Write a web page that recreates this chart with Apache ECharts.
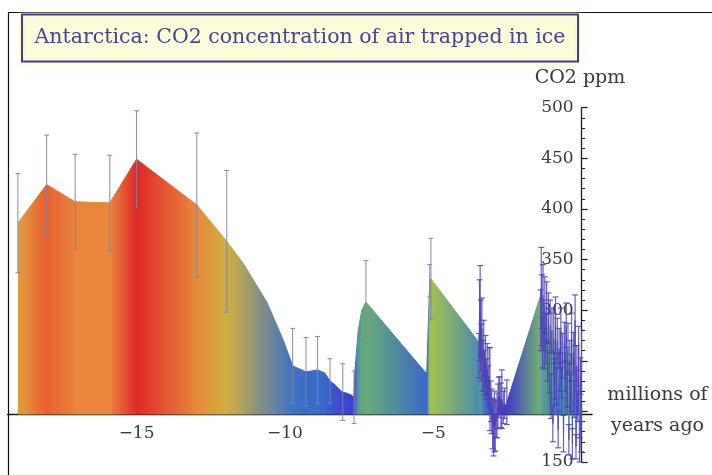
<!DOCTYPE html>
<html>
<head>
<meta charset="utf-8">
<script src="https://cdn.jsdelivr.net/npm/echarts@6/dist/echarts.min.js"></script>
<style>
  html, body { margin: 0; padding: 0; background: #fff; }
  #chart { width: 712px; height: 475px; }
</style>
</head>
<body>
<div id="chart"></div>
<script>
// Sample age in millions of years (negative = before present)
const ages = [
  -19.0, -18.03, -17.07, -15.9, -15.0, -12.97, -11.96, -11.4, -10.61, -10.05,
  -9.74, -9.29, -8.9, -8.66, -8.48, -8.3, -8.14, -8.05, -7.92, -7.75, -7.67,
  -7.64, -7.53, -7.41, -7.27,
  -5.22, -5.12, -5.08,
  -3.48, -3.46, -3.44, -3.42, -3.40, -3.38, -3.36, -3.33, -3.30, -3.27, -3.24,
  -3.21, -3.18, -3.15, -3.12, -3.09, -3.06, -3.03, -3.00, -2.97, -2.94, -2.91,
  -2.88, -2.85, -2.82, -2.79, -2.76, -2.72, -2.69, -2.64, -2.60, -2.56, -2.52,
  -1.40, -1.38, -1.36, -1.34, -1.32, -1.30, -1.28, -1.26, -1.24, -1.21, -1.18,
  -1.15, -1.12, -1.09, -1.06, -1.03, -1.00, -0.97, -0.94, -0.91, -0.88, -0.85,
  -0.82, -0.79, -0.76, -0.73, -0.70, -0.67, -0.64, -0.61, -0.58, -0.55, -0.52,
  -0.49, -0.46, -0.43, -0.40, -0.37, -0.34, -0.31, -0.28, -0.25, -0.22, -0.19,
  -0.16, -0.13, -0.10, -0.07, -0.04, -0.02, 0.0
];

// CO2 concentration, ppm
const co2 = [
  386, 424, 407, 406, 449, 404, 368, 346, 308, 270,
  245, 239, 241, 238, 230, 226, 221, 219, 218, 216, 214,
  239, 280, 300, 308,
  237, 329, 331,
  269, 255, 290, 300, 275, 258, 282, 245, 262, 238, 250,
  232, 242, 225, 235, 222, 210, 200, 188, 184, 190, 186,
  192, 196, 205, 214, 216, 206, 212, 204, 208, 205, 209,
  313, 290, 322, 300, 268, 315, 285, 262, 305, 272, 298,
  250, 292, 238, 285, 215, 280, 188, 272, 232, 285, 225,
  270, 182, 262, 238, 280, 228, 255, 178, 268, 235, 285,
  222, 262, 172, 250, 218, 272, 168, 258, 212, 290, 165,
  245, 205, 262, 162, 235, 175, 280
];

// Half-width of the uncertainty bar, ppm (0 = no bar)
const co2Err = [
  49, 49, 47, 47, 48, 71, 70, 0, 0, 0,
  37, 34, 33, 0, 22, 0, 0, 28, 0, 0, 26,
  0, 0, 0, 41,
  0, 16, 40,
  0, 22, 40, 44, 35, 28, 30, 25, 28, 22, 25,
  20, 25, 20, 28, 41, 20, 22, 25, 28, 30, 25,
  18, 22, 22, 20, 18, 22, 29, 16, 15, 0, 22,
  0, 30, 40, 35, 25, 30, 25, 20, 28, 25, 30,
  20, 25, 20, 25, 22, 22, 18, 25, 20, 28, 18,
  22, 18, 20, 18, 22, 15, 22, 18, 20, 15, 22,
  18, 25, 15, 20, 18, 25, 15, 20, 18, 25, 12,
  20, 15, 22, 12, 18, 15, 0
];

// Points that only trace the smoothed outline between two cores;
// they carry no colour of their own, the fill blends across them
const outlineOnlyAges = [-11.4, -10.61, -10.05];

const xTickValues = [-19, -18, -17, -16, -15, -14, -13, -12, -11, -10,
                     -9, -8, -7, -6, -5, -4, -3, -2, -1];
const xLabelValues = [-15, -10, -5];
const yHiddenLabel = 200;       // the time axis crosses here, so no label
const axisCrossing = 197;       // ppm level where the time axis is drawn

// Colour scale: CO2 value -> fill colour
const palette = [
  [160, '#5a2a8a'], [195, '#4536b8'], [215, '#3c40d0'], [240, '#3a6cc8'],
  [265, '#4a8ab0'], [290, '#5a9e92'], [310, '#6aae74'], [330, '#a0c250'],
  [350, '#bcb84a'], [370, '#d2ae40'], [390, '#e49a3c'], [408, '#e8843a'],
  [425, '#e85e2e'], [450, '#e0262a']
];

function hexToRgb(h) {
  return [parseInt(h.substr(1, 2), 16), parseInt(h.substr(3, 2), 16), parseInt(h.substr(5, 2), 16)];
}
function colourFor(v) {
  if (v <= palette[0][0]) return palette[0][1];
  for (let i = 1; i < palette.length; i++) {
    if (v <= palette[i][0]) {
      const [v0, c0] = palette[i - 1], [v1, c1] = palette[i];
      const t = (v - v0) / (v1 - v0);
      const a = hexToRgb(c0), b = hexToRgb(c1);
      const m = a.map((x, k) => Math.round(x + (b[k] - x) * t));
      return 'rgb(' + m.join(',') + ')';
    }
  }
  return palette[palette.length - 1][1];
}

// Horizontal gradient: each sample colours its own vertical strip,
// colours blend linearly between neighbouring samples
function buildStops() {
  const a0 = ages[0], a1 = ages[ages.length - 1], span = a1 - a0;
  const stops = [];
  ages.forEach((a, i) => {
    if (outlineOnlyAges.indexOf(a) >= 0) return;
    stops.push({ offset: (a - a0) / span, color: colourFor(co2[i]) });
  });
  return stops;
}
const stops = buildStops();
const fillGradient = new echarts.graphic.LinearGradient(0, 0, 1, 0, stops);
const lineGradient = new echarts.graphic.LinearGradient(0, 0, 1, 0, stops);

const curveData = ages.map((a, i) => [a, co2[i]]);
const errData = [];
ages.forEach((a, i) => { if (co2Err[i] > 0) errData.push([a, co2[i], co2Err[i]]); });

const serif = '"DejaVu Serif", "Liberation Serif", serif';
const xMin = -19.35, xMax = 0.35;
const yMin = 150, yMax = 500;
const gridLeft = 7.5, gridWidth = 584.5;
const gridTop = 107.7, gridHeight = 354.3;

const chart = echarts.init(document.getElementById('chart'), null, { renderer: 'canvas' });
chart.setOption({
  animation: false,
  backgroundColor: '#ffffff',
  grid: { left: gridLeft, top: gridTop, width: gridWidth, height: gridHeight,
          containLabel: false, outerBoundsMode: 'none' },
  xAxis: {
    type: 'value',
    min: xMin,
    max: xMax,
    position: 'bottom',
    // the time axis sits at the axisCrossing level instead of the grid bottom
    offset: -(axisCrossing - yMin) / (yMax - yMin) * gridHeight,
    axisLine: { onZero: false, lineStyle: { color: '#1a1a1a', width: 1.3 } },
    axisTick: { show: true, inside: true, length: 5, customValues: xTickValues,
                lineStyle: { color: '#1a1a1a', width: 1.3 } },
    axisLabel: {
      customValues: xLabelValues, margin: 11,
      fontFamily: serif, fontSize: 17, color: '#3a3a3a',
      formatter: v => (v < 0 ? '\u2212' : '') + Math.abs(v)
    },
    splitLine: { show: false }
  },
  yAxis: {
    type: 'value',
    min: yMin,
    max: yMax,
    interval: 50,
    position: 'left',
    // the CO2 axis sits at age 0
    offset: -(0 - xMin) / (xMax - xMin) * gridWidth,
    axisLine: { show: true, onZero: false, lineStyle: { color: '#1a1a1a', width: 1.3 } },
    axisTick: { show: true, inside: true, length: 6, lineStyle: { color: '#1a1a1a', width: 1.2 } },
    minorTick: { show: true, splitNumber: 5, length: 3.5, lineStyle: { color: '#1a1a1a', width: 1 } },
    axisLabel: {
      margin: 8, fontFamily: serif, fontSize: 17, color: '#3a3a3a',
      formatter: v => (v === yHiddenLabel ? '' : String(v))
    },
    splitLine: { show: false }
  },
  series: [
    {
      type: 'line',
      data: curveData,
      showSymbol: false,
      z: 2,
      lineStyle: { color: lineGradient, width: 1 },
      areaStyle: { origin: axisCrossing, color: fillGradient, opacity: 1 }
    },
    {
      type: 'custom',
      data: errData,
      z: 3,
      renderItem: function (params, api) {
        const age = api.value(0), v = api.value(1), e = api.value(2);
        const top = api.coord([age, v + e]);
        const bot = api.coord([age, v - e]);
        const past = age < -4;
        const stroke = past ? 'rgba(130,132,160,0.95)' : 'rgba(78,66,182,0.85)';
        const cap = past ? 2.5 : 3;
        const style = { stroke: stroke, lineWidth: past ? 1 : 1.2, fill: null };
        return {
          type: 'group',
          children: [
            { type: 'line', shape: { x1: top[0], y1: top[1], x2: bot[0], y2: bot[1] }, style: style },
            { type: 'line', shape: { x1: top[0] - cap, y1: top[1], x2: top[0] + cap, y2: top[1] }, style: style },
            { type: 'line', shape: { x1: bot[0] - cap, y1: bot[1], x2: bot[0] + cap, y2: bot[1] }, style: style }
          ]
        };
      }
    }
  ],
  graphic: [
    // outer frame edges
    { type: 'line', shape: { x1: 8, y1: 12.5, x2: 712, y2: 12.5 }, style: { stroke: '#111', lineWidth: 1.2 } },
    { type: 'line', shape: { x1: 8.5, y1: 12, x2: 8.5, y2: 475 }, style: { stroke: '#111', lineWidth: 1.2 } },
    // title box
    {
      type: 'rect', shape: { x: 22, y: 14.5, width: 556, height: 47 },
      style: { fill: '#fdfddc', stroke: '#3d3d9e', lineWidth: 2,
               shadowBlur: 6, shadowColor: 'rgba(245,245,170,0.9)' }
    },
    {
      type: 'text', x: 300, y: 37.5,
      style: { text: 'Antarctica: CO2 concentration of air trapped in ice',
               font: '20.5px ' + serif, fill: '#44449a', align: 'center', verticalAlign: 'middle' }
    },
    // axis names
    {
      type: 'text', x: 580, y: 78.5,
      style: { text: 'CO2 ppm', font: '19px ' + serif, fill: '#3a3a3a', align: 'center', verticalAlign: 'middle' }
    },
    {
      type: 'text', x: 657.5, y: 395,
      style: { text: 'millions of', font: '19px ' + serif, fill: '#3a3a3a', align: 'center', verticalAlign: 'middle' }
    },
    {
      type: 'text', x: 657.5, y: 426.5,
      style: { text: 'years ago', font: '19px ' + serif, fill: '#3a3a3a', align: 'center', verticalAlign: 'middle' }
    }
  ]
});
</script>
</body>
</html>
